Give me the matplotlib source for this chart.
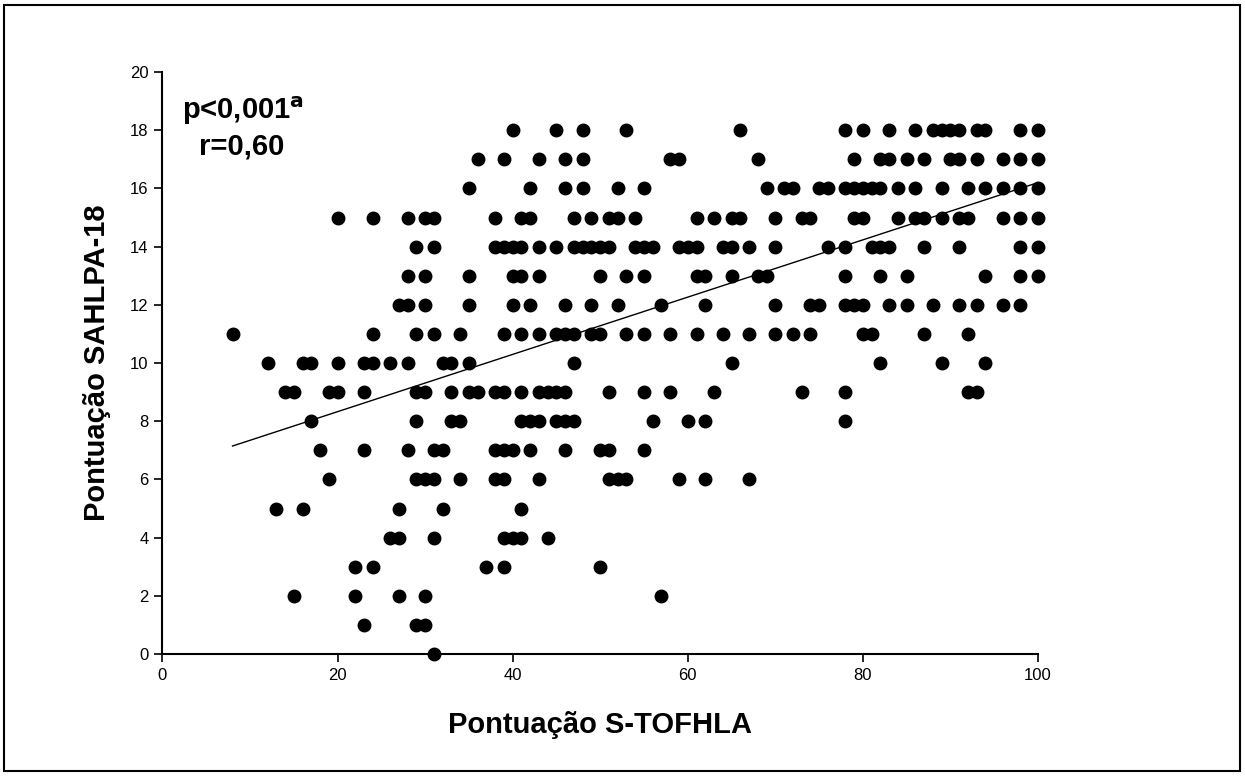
import numpy as np
import matplotlib
matplotlib.use("Agg")
import matplotlib.pyplot as plt
from matplotlib.patches import Rectangle

plt.rcParams['font.family'] = ['Liberation Sans', 'DejaVu Sans']

# S-TOFHLA scores observed at each SAHLPA-18 score
sahlpa_scores = list(range(0, 19))
tofhla_at_0 = [31]
tofhla_at_1 = [23, 29, 30]
tofhla_at_2 = [15, 22, 27, 30, 57]
tofhla_at_3 = [22, 24, 37, 39, 50]
tofhla_at_4 = [26, 27, 31, 39, 40, 41, 44]
tofhla_at_5 = [13, 16, 27, 32, 41]
tofhla_at_6 = [19, 29, 30, 31, 34, 38, 39, 43, 51, 52, 53, 59, 62, 67]
tofhla_at_7 = [18, 23, 28, 31, 32, 38, 39, 40, 42, 46, 50, 51, 55]
tofhla_at_8 = [17, 29, 33, 34, 41, 42, 43, 45, 46, 47, 56, 60, 62, 78]
tofhla_at_9 = [14, 15, 19, 20, 23, 29, 30, 33, 35, 36, 38, 39, 41, 43, 44, 45,
               46, 51, 55, 58, 63, 73, 78, 92, 93]
tofhla_at_10 = [12, 16, 17, 20, 23, 24, 26, 28, 32, 33, 35, 47, 65, 82, 89, 94]
tofhla_at_11 = [8, 24, 29, 31, 34, 39, 41, 43, 45, 46, 47, 49, 50, 53, 55, 58,
                61, 64, 67, 70, 72, 74, 80, 81, 87, 92]
tofhla_at_12 = [27, 28, 30, 35, 40, 42, 46, 49, 52, 57, 62, 70, 74, 75, 78, 79,
                80, 83, 85, 88, 91, 93, 96, 98]
tofhla_at_13 = [28, 30, 35, 40, 41, 43, 50, 53, 55, 61, 62, 65, 68, 69, 78, 82,
                85, 94, 98, 100]
tofhla_at_14 = [29, 31, 38, 39, 40, 41, 43, 45, 47, 48, 49, 50, 51, 54, 55, 56,
                59, 60, 61, 64, 65, 67, 70, 76, 78, 81, 82, 83, 87, 91, 98, 100]
tofhla_at_15 = [20, 24, 28, 30, 31, 38, 41, 42, 47, 49, 51, 52, 54, 61, 63, 65,
                66, 70, 73, 74, 79, 80, 84, 86, 87, 89, 91, 92, 96, 98, 100]
tofhla_at_16 = [35, 42, 46, 48, 52, 55, 69, 71, 72, 75, 76, 78, 79, 80, 81, 82,
                84, 86, 89, 92, 94, 96, 98, 100]
tofhla_at_17 = [36, 39, 43, 46, 48, 58, 59, 68, 79, 82, 83, 85, 87, 90, 91, 93,
                96, 98, 100]
tofhla_at_18 = [40, 45, 48, 53, 66, 78, 80, 83, 86, 88, 89, 90, 91, 93, 94, 98, 100]

# regression line as shown in the chart (intercept, slope)
reg_intercept = 6.36
reg_slope = 0.0984

rows = [tofhla_at_0, tofhla_at_1, tofhla_at_2, tofhla_at_3, tofhla_at_4,
        tofhla_at_5, tofhla_at_6, tofhla_at_7, tofhla_at_8, tofhla_at_9,
        tofhla_at_10, tofhla_at_11, tofhla_at_12, tofhla_at_13, tofhla_at_14,
        tofhla_at_15, tofhla_at_16, tofhla_at_17, tofhla_at_18]

x = np.concatenate([np.array(r, float) for r in rows])
y = np.concatenate([np.full(len(r), s, float) for r, s in zip(rows, sahlpa_scores)])

xticks = [0, 20, 40, 60, 80, 100]
yticks = list(range(0, 21, 2))

fig = plt.figure(figsize=(12.45, 7.76), dpi=100)
ax = fig.add_axes([0.1305, 0.1572, 0.7032, 0.75])

ax.plot(x, y, 'o', color='black', markersize=9, clip_on=False, zorder=3)

xl = np.array([x.min(), x.max()])
ax.plot(xl, reg_intercept + reg_slope * xl, color='black', lw=1.0, zorder=2)

ax.set_xlim(0, 100)
ax.set_ylim(0, 20)
ax.set_xticks(xticks)
ax.set_yticks(yticks)
ax.tick_params(direction='out', length=6, width=1.2, labelsize=12, pad=4)
for s in ['top', 'right']:
    ax.spines[s].set_visible(False)
for s in ['left', 'bottom']:
    ax.spines[s].set_linewidth(1.5)

ax.set_xlabel('Pontuação S-TOFHLA', fontsize=21, fontweight='bold', labelpad=20)
ax.set_ylabel('Pontuação SAHLPA-18', fontsize=21, fontweight='bold', labelpad=14)

ax.text(2.2, 18.65, r'p<0,001$^{\mathbf{a}}$', fontsize=21, fontweight='bold',
        ha='left', va='center')
ax.text(4.2, 17.45, 'r=0,60', fontsize=21, fontweight='bold', ha='left', va='center')

fig.patches.append(Rectangle((4 / 1245, 5 / 776), 1236 / 1245, 766 / 776,
                             transform=fig.transFigure, fill=False,
                             edgecolor='black', linewidth=1.5))

fig.savefig('out.png', dpi=100)
